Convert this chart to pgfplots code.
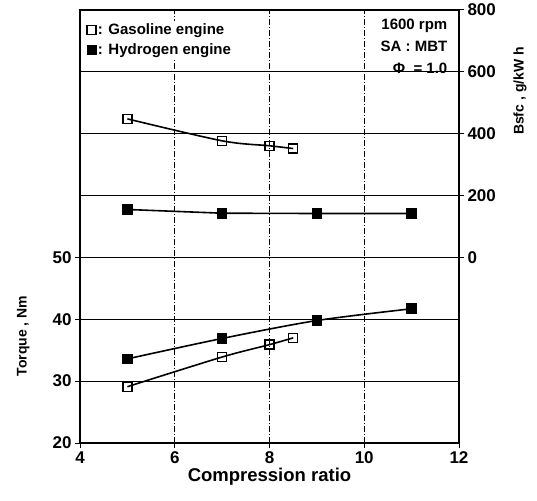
\documentclass[border=0pt]{standalone}
\usepackage{fontspec}
\setmainfont{Liberation Sans}
\usepackage{pgfplots}
\pgfplotsset{compat=1.18}
\begin{document}
\begin{tikzpicture}[x=1pt,y=1pt]
\useasboundingbox (0,0) rectangle (537,500);
\pgfplotsset{
  common/.style={
    at={(80pt,57pt)}, anchor=south west,
    scale only axis, width=379pt, height=433pt,
    xmin=4, xmax=12,
    tick align=outside, major tick length=5pt,
    tick style={black, line width=1pt},
    ticklabel style={font=\bfseries\fontsize{17}{20}\selectfont},
    /pgf/number format/assume math mode=true,
    major grid style={black, line width=0.8pt},
  }
}
\begin{axis}[common,
  ymin=20, ymax=90,
  xtick={4,6,8,10,12}, ytick={20,30,40,50},
  ytick pos=left, xtick pos=bottom,
  axis line style={line width=1.6pt},
  xmajorgrids, ymajorgrids,
  major x grid style={black, line width=0.7pt, dash pattern=on 6pt off 2pt on 1pt off 2pt},
  xlabel={Compression ratio},
  ylabel={Torque , Nm},
  xlabel style={font=\bfseries\fontsize{18.5}{21}\selectfont, yshift=2pt},
  ylabel style={font=\bfseries\fontsize{14}{17}\selectfont, at={(rel axis cs:-0.150,0.247)}, anchor=center},
  legend cell align=left,
  legend style={at={(rel axis cs:0.015,0.975)}, anchor=north west, draw=none, fill=white,
    font=\bfseries\fontsize{15}{18}\selectfont, row sep=3pt, inner sep=1pt},
  legend image code/.code={\draw[#1] plot coordinates {(0.22cm,0cm)};},
]
\addlegendimage{only marks, mark=square, mark size=4.5pt, line width=1.3pt, black}
\addlegendentry{: Gasoline engine}
\addlegendimage{only marks, mark=square*, mark size=4.5pt, black}
\addlegendentry{: Hydrogen engine}
% Torque, hydrogen
\addplot[black, line width=1.6pt, smooth, mark=square*, mark size=4.5pt, mark options={solid}]
  coordinates {(5,33.6) (7,36.9) (9,39.8) (11,41.7)};
% Torque, gasoline
\addplot[black, line width=1.6pt, smooth, mark=square, mark size=4.5pt, mark options={fill=white, line width=1.3pt}]
  coordinates {(5,29.1) (7,33.9) (8,35.9) (8.5,37.0)};
\node[anchor=north east, align=right, fill=white, inner sep=2pt,
  font=\bfseries\fontsize{15}{22}\selectfont] at (rel axis cs:0.975,0.985)
  {1600 rpm\\SA : MBT\\Φ\ \ = 1.0};
\end{axis}
\begin{axis}[common,
  ymin=-600, ymax=800,
  axis x line=none, axis y line*=right,
  ytick={0,200,400,600,800}, ytick pos=right,
  axis line style={line width=1.6pt},
  ymajorgrids,
  ylabel={Bsfc , g/kW h},
  ylabel style={font=\bfseries\fontsize{14}{17}\selectfont, at={(rel axis cs:1.161,0.813)}, anchor=center},
]
\addplot[black, line width=1.6pt, smooth, mark=square, mark size=4.5pt, mark options={fill=white, line width=1.3pt}]
  coordinates {(5,448) (7,377) (8,361) (8.5,352)};
\addplot[black, line width=1.6pt, mark=square*, mark size=4.5pt]
  coordinates {(5,155) (7,143) (9,142) (11,142)};
\end{axis}
\end{tikzpicture}
\end{document}
